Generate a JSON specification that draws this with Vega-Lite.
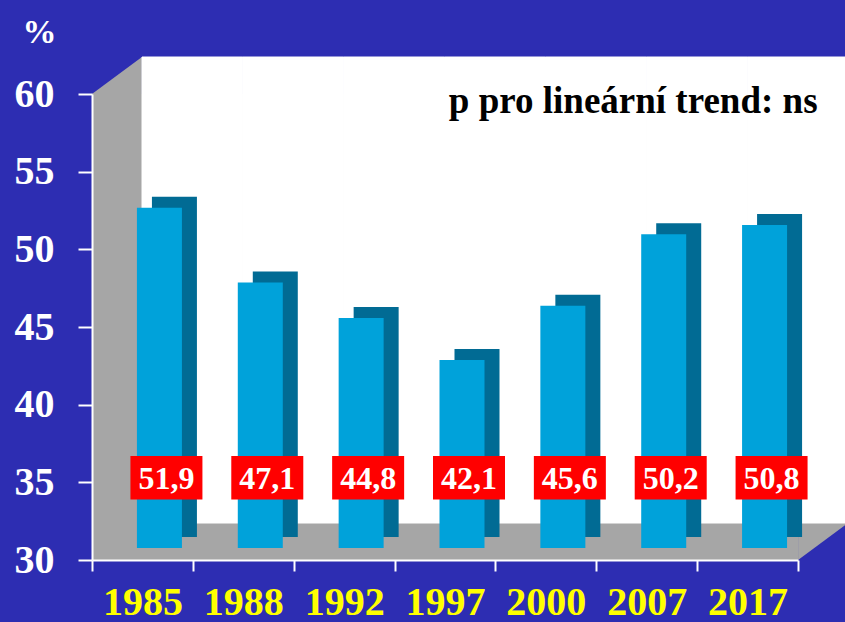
{
  "$schema": "https://vega.github.io/schema/vega-lite/v6.json",
  "width": 706,
  "height": 466,
  "autosize": {"type": "none"},
  "padding": {"left": 92, "top": 94, "right": 47, "bottom": 62},
  "background": "#2d2db2",
  "config": {
    "view": {"stroke": null},
    "locale": {"number": {"decimal": ",", "thousands": " ", "grouping": [3], "currency": ["", " Kč"]}}
  },
  "datasets": {
    "main": [
      {"year": "1985", "value": 51.9},
      {"year": "1988", "value": 47.1},
      {"year": "1992", "value": 44.8},
      {"year": "1997", "value": 42.1},
      {"year": "2000", "value": 45.6},
      {"year": "2007", "value": 50.2},
      {"year": "2017", "value": 50.8}
    ],
    "one": [{"note": "p pro lineární trend: ns"}]
  },
  "data": {"name": "main"},
  "encoding": {
    "x": {
      "field": "year",
      "type": "ordinal",
      "sort": null,
      "scale": {"domain": ["1985", "1988", "1992", "1997", "2000", "2007", "2017"], "paddingInner": 0, "paddingOuter": 0},
      "axis": {
        "title": null,
        "labelAngle": 0,
        "labelColor": "#ffff00",
        "labelFont": "Liberation Serif",
        "labelFontWeight": "bold",
        "labelFontSize": 40,
        "labelPadding": 11,
        "tickBand": "extent",
        "tickSize": 11,
        "tickWidth": 2,
        "tickColor": "#ffffff",
        "domainColor": "#ffffff",
        "domainWidth": 2,
        "zindex": 1
      }
    }
  },
  "layer": [
    {
      "data": {"name": "one"},
      "mark": {"type": "rect", "color": "#a6a6a6"},
      "encoding": {
        "x": null,
        "y": {
          "datum": 60,
          "type": "quantitative",
          "scale": {"domain": [30, 60], "nice": false, "zero": false},
          "axis": {
            "title": "%",
            "titleAngle": 0,
            "titleColor": "#ffffff",
            "titleFont": "Liberation Serif",
            "titleFontWeight": "bold",
            "titleFontSize": 34,
            "titleX": -53,
            "titleY": -52,
            "titleAlign": "center",
            "titleBaseline": "alphabetic",
            "values": [30, 35, 40, 45, 50, 55, 60],
            "labelColor": "#ffffff",
            "labelFont": "Liberation Serif",
            "labelFontWeight": "bold",
            "labelFontSize": 40,
            "labelPadding": 24,
            "tickSize": 14,
            "tickWidth": 2,
            "tickColor": "#ffffff",
            "domainColor": "#ffffff",
            "domainWidth": 2,
            "grid": false,
            "zindex": 1
          }
        },
        "y2": {"datum": 30}
      }
    },
    {
      "data": {"name": "one"},
      "mark": {"type": "point", "shape": "M0,0 L2,-1.48 L2,0 Z", "size": 2500, "filled": true, "color": "#a6a6a6", "opacity": 1, "strokeWidth": 0, "xOffset": -50.5},
      "encoding": {
        "x": {"datum": "1985", "type": "ordinal"},
        "y": {"datum": 60, "type": "quantitative"}
      }
    },
    {
      "data": {"name": "one"},
      "mark": {"type": "point", "shape": "M0,0 L2,-1.48 L0,-1.48 Z", "size": 2500, "filled": true, "color": "#a6a6a6", "opacity": 1, "strokeWidth": 0, "xOffset": 50.5},
      "encoding": {
        "x": {"datum": "2017", "type": "ordinal"},
        "y": {"datum": 30, "type": "quantitative"}
      }
    },
    {
      "mark": {"type": "bar", "color": "#ffffff", "stroke": "#ffffff", "strokeWidth": 1, "width": {"band": 1}, "xOffset": 50, "x2Offset": 50, "yOffset": -37, "y2Offset": -37},
      "encoding": {
        "y": {"datum": 60, "type": "quantitative"},
        "y2": {"datum": 30}
      }
    },
    {
      "mark": {"type": "bar", "color": "#016b94", "size": 45, "xOffset": 32, "x2Offset": 32, "yOffset": -23, "y2Offset": -23},
      "encoding": {
        "y": {"field": "value", "type": "quantitative"},
        "y2": {"datum": 30}
      }
    },
    {
      "mark": {"type": "bar", "color": "#00a2da", "size": 45, "xOffset": 17, "x2Offset": 17, "yOffset": -12, "y2Offset": -12},
      "encoding": {
        "y": {"field": "value", "type": "quantitative"},
        "y2": {"datum": 30}
      }
    },
    {
      "mark": {"type": "bar", "color": "#ff0000", "size": 72, "xOffset": 24, "x2Offset": 24},
      "encoding": {
        "y": {"datum": 33.9, "type": "quantitative"},
        "y2": {"datum": 36.7}
      }
    },
    {
      "mark": {"type": "text", "color": "#ffffff", "font": "Liberation Serif", "fontWeight": "bold", "fontSize": 32, "baseline": "middle", "xOffset": 24, "dy": 1},
      "encoding": {
        "y": {"datum": 35.3, "type": "quantitative"},
        "text": {"field": "value", "type": "quantitative", "format": ".1f"}
      }
    },
    {
      "data": {"name": "one"},
      "mark": {"type": "text", "color": "#000000", "font": "Liberation Serif", "fontWeight": "bold", "fontSize": 37, "align": "right", "baseline": "alphabetic", "xOffset": 70},
      "encoding": {
        "x": {"datum": "2017", "type": "ordinal"},
        "y": {"datum": 58.8, "type": "quantitative"},
        "text": {"field": "note"}
      }
    }
  ]
}
